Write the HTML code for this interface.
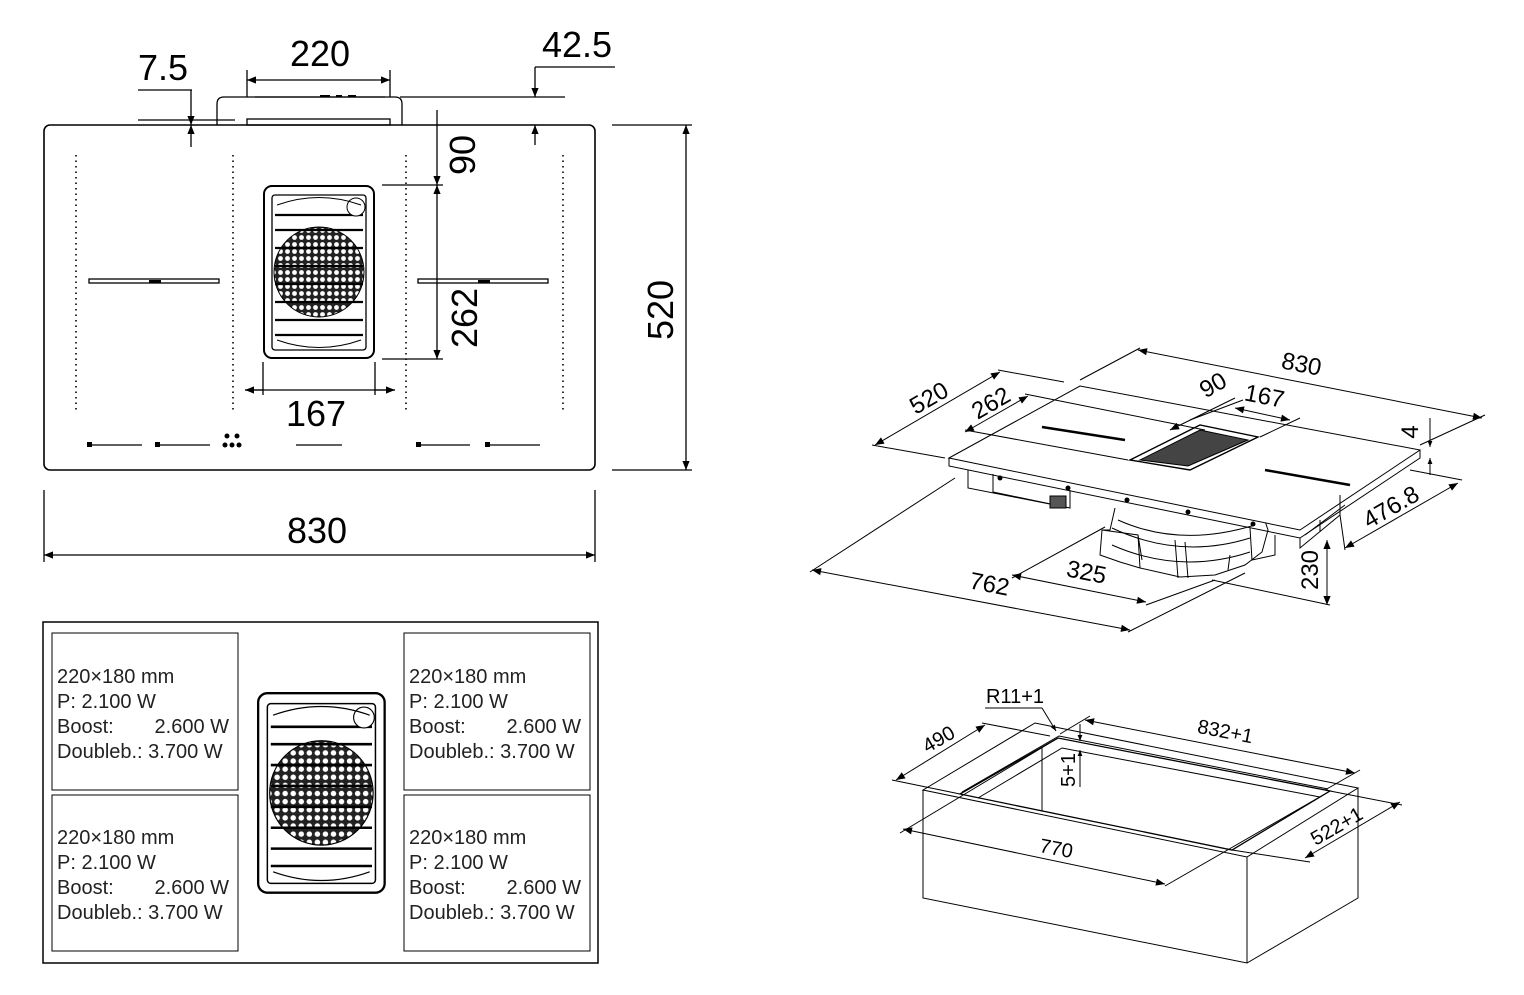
<!DOCTYPE html>
<html><head><meta charset="utf-8"><style>
html,body{margin:0;padding:0;background:#fff;}
svg{display:block;font-family:"Liberation Sans",sans-serif;}
</style></head><body>
<svg width="1524" height="995" viewBox="0 0 1524 995" xmlns="http://www.w3.org/2000/svg">
<defs>
<marker id="a" viewBox="0 0 10 10" refX="10" refY="5" markerWidth="16" markerHeight="9" markerUnits="userSpaceOnUse" orient="auto-start-reverse"><path d="M0,1 L10,5 L0,9 z" fill="#000"/></marker>
<marker id="s" viewBox="0 0 10 10" refX="10" refY="5" markerWidth="11" markerHeight="6" markerUnits="userSpaceOnUse" orient="auto-start-reverse"><path d="M0,1 L10,5 L0,9 z" fill="#000"/></marker>
<pattern id="dots" width="7" height="7" patternUnits="userSpaceOnUse"><rect width="7" height="7" fill="#222"/><circle cx="3.5" cy="3.5" r="2.4" fill="#fff"/></pattern>
<g id="vent">
<rect x="1" y="1" width="110" height="172" rx="8" fill="#fff" stroke="#000" stroke-width="2"/>
<rect x="9" y="10" width="94" height="155" rx="3" fill="none" stroke="#000" stroke-width="1.3"/>
<circle cx="56" cy="87" r="45" fill="url(#dots)" stroke="#000"/>
<g stroke="#000" stroke-width="2.2"><line x1="12" y1="30" x2="100" y2="30"/><line x1="12" y1="45" x2="100" y2="45"/><line x1="12" y1="63" x2="100" y2="63"/><line x1="12" y1="81" x2="100" y2="81"/><line x1="12" y1="99" x2="100" y2="99"/><line x1="12" y1="117" x2="100" y2="117"/><line x1="12" y1="135" x2="100" y2="135"/><line x1="12" y1="150" x2="100" y2="150"/></g>
<circle cx="93" cy="22" r="9" fill="#fff" stroke="#000"/>
<path d="M14,20 Q56,5 98,20 M14,155 Q56,170 98,155" fill="none" stroke="#000"/>
</g>
</defs>

<g stroke="#000" fill="none" stroke-width="1.3">
<rect x="44" y="125" width="551" height="345" rx="6" stroke-width="1.6"/>
<path d="M217,125 L217,104 Q217,97 224,97 L395,97 Q402,97 402,104 L402,125" stroke-width="1.3"/>
<rect x="247" y="119" width="143" height="6"/>
<line x1="255" y1="97" x2="385" y2="97" stroke-width="1.3"/>
<line x1="320" y1="96" x2="330" y2="96" stroke-width="2"/><line x1="336" y1="96" x2="342" y2="96" stroke-width="2"/><line x1="348" y1="96" x2="356" y2="96" stroke-width="2"/>
<g stroke-dasharray="1.5 4" stroke-width="1.6"><line x1="76" y1="155" x2="76" y2="410"/><line x1="233" y1="155" x2="233" y2="410"/><line x1="406" y1="155" x2="406" y2="410"/><line x1="563" y1="155" x2="563" y2="410"/></g>
<rect x="89" y="279" width="130" height="4"/><rect x="418" y="279" width="130" height="4"/>
<line x1="247" y1="80" x2="390" y2="80" marker-start="url(#a)" marker-end="url(#a)"/>
<line x1="247" y1="70" x2="247" y2="97"/><line x1="390" y1="70" x2="390" y2="97"/>
<line x1="138" y1="90" x2="192" y2="90"/><line x1="191" y1="90" x2="191" y2="125" marker-end="url(#a)"/><line x1="191" y1="147" x2="191" y2="125" marker-end="url(#a)"/>
<line x1="138" y1="120" x2="235" y2="120"/>
<line x1="535" y1="67" x2="615" y2="67"/><line x1="535" y1="67" x2="535" y2="97" marker-end="url(#a)"/><line x1="535" y1="145" x2="535" y2="125" marker-end="url(#a)"/>
<line x1="400" y1="97" x2="565" y2="97"/>
<line x1="437" y1="110" x2="437" y2="185" marker-end="url(#a)"/>
<line x1="437" y1="185" x2="437" y2="359" marker-start="url(#a)" marker-end="url(#a)"/>
<line x1="382" y1="185" x2="443" y2="185"/><line x1="382" y1="359" x2="443" y2="359"/>
<line x1="245" y1="390" x2="395" y2="390"/><line x1="263" y1="390" x2="245" y2="390" marker-end="url(#a)"/><line x1="375" y1="390" x2="395" y2="390" marker-end="url(#a)"/>
<line x1="263" y1="362" x2="263" y2="395"/><line x1="375" y1="362" x2="375" y2="395"/>
<line x1="686" y1="125" x2="686" y2="470" marker-start="url(#a)" marker-end="url(#a)"/>
<line x1="612" y1="125" x2="692" y2="125"/><line x1="612" y1="470" x2="692" y2="470"/>
<line x1="44" y1="555" x2="595" y2="555" marker-start="url(#a)" marker-end="url(#a)"/>
<line x1="44" y1="490" x2="44" y2="562"/><line x1="595" y1="490" x2="595" y2="562"/>
<g stroke-width="1.2"><line x1="90" y1="445" x2="142" y2="445"/><line x1="158" y1="445" x2="210" y2="445"/><line x1="296" y1="445" x2="342" y2="445"/><line x1="419" y1="445" x2="470" y2="445"/><line x1="488" y1="445" x2="540" y2="445"/></g>
</g>
<rect x="149" y="280" width="12" height="3" fill="#000"/><rect x="478" y="280" width="12" height="3" fill="#000"/>
<g fill="#000"><rect x="87" y="442" width="5" height="5"/><rect x="155" y="442" width="5" height="5"/><rect x="416" y="442" width="5" height="5"/><rect x="485" y="442" width="5" height="5"/><circle cx="227" cy="436" r="2.5"/><circle cx="237" cy="436" r="2.5"/><circle cx="225" cy="445" r="2.5"/><circle cx="232" cy="445" r="2.5"/><circle cx="239" cy="445" r="2.5"/></g>
<use href="#vent" x="263" y="185"/>
<g font-size="36" fill="#000">
<text x="320" y="66" text-anchor="middle">220</text>
<text x="163" y="80" text-anchor="middle">7.5</text>
<text x="577" y="57" text-anchor="middle">42.5</text>
<text x="316" y="426" text-anchor="middle">167</text>
<text x="317" y="543" text-anchor="middle">830</text>
<text transform="translate(475,155) rotate(-90)" text-anchor="middle">90</text>
<text transform="translate(477,318) rotate(-90)" text-anchor="middle">262</text>
<text transform="translate(673,310) rotate(-90)" text-anchor="middle">520</text>
</g>

<g stroke="#000" fill="none" stroke-width="1.5">
<rect x="43" y="622" width="555" height="341"/>
<rect x="52" y="633" width="186" height="157" stroke-width="1"/>
<rect x="52" y="795" width="186" height="156" stroke-width="1"/>
<rect x="404" y="633" width="186" height="157" stroke-width="1"/>
<rect x="404" y="795" width="186" height="156" stroke-width="1"/>
</g>
<g transform="translate(257,692) scale(1.15,1.16)"><use href="#vent"/></g>
<g font-size="20" fill="#222">
<text x="57" y="683">220×180 mm</text><text x="57" y="708">P: 2.100 W</text><text x="57" y="733">Boost:</text><text x="229" y="733" text-anchor="end">2.600 W</text><text x="57" y="758">Doubleb.: 3.700 W</text>
<text x="409" y="683">220×180 mm</text><text x="409" y="708">P: 2.100 W</text><text x="409" y="733">Boost:</text><text x="581" y="733" text-anchor="end">2.600 W</text><text x="409" y="758">Doubleb.: 3.700 W</text>
<text x="57" y="844">220×180 mm</text><text x="57" y="869">P: 2.100 W</text><text x="57" y="894">Boost:</text><text x="229" y="894" text-anchor="end">2.600 W</text><text x="57" y="919">Doubleb.: 3.700 W</text>
<text x="409" y="844">220×180 mm</text><text x="409" y="869">P: 2.100 W</text><text x="409" y="894">Boost:</text><text x="581" y="894" text-anchor="end">2.600 W</text><text x="409" y="919">Doubleb.: 3.700 W</text>
</g>

<!-- isometric hob -->
<g stroke="#000" fill="none" stroke-width="1">
<!-- fan unit -->
<path d="M1115,508 L1110,530 L1102,530 L1100,555 L1120,562 L1140,568 L1180,577 L1215,575 L1245,565 L1262,552 L1268,530 L1262,512" fill="#fff"/>
<path d="M1112,528 Q1180,560 1250,538 M1112,545 Q1180,575 1250,552 M1118,520 Q1180,548 1255,525"/>
<path d="M1102,530 L1138,535 L1140,568 M1138,535 L1142,560"/>
<path d="M1175,540 L1178,578 M1185,542 L1188,578 M1230,555 L1228,570"/>
<path d="M1250,528 L1252,560 L1275,555 L1275,535"/>
<path d="M949,458 L1080,386 L1420,450 L1300,530 Z" fill="#fff"/>
<path d="M949,458 L949,466 L1300,538 L1420,458 L1420,450"/>
<path d="M968,470 L968,488 L1070,508 M1070,490 L1070,508 L993,492 L993,474"/>
<rect x="1050" y="496" width="16" height="12" fill="#555"/>
<path d="M1300,538 L1300,548 L1340,515 L1340,495 M1320,520 L1320,532 M1305,535 L1345,505"/>
<path d="M1130,460 L1200,425 L1258,437 L1190,470 Z" stroke-width="1.4"/>
<path d="M1140,460 L1200,430 L1248,440 L1188,466 Z" fill="#444"/>
<line x1="1042" y1="427" x2="1125" y2="440" stroke-width="2.5"/>
<line x1="1265" y1="470" x2="1350" y2="485" stroke-width="2.5"/>
<line x1="1138" y1="350" x2="1482" y2="418" marker-start="url(#a)" marker-end="url(#a)"/>
<line x1="1080" y1="380" x2="1140" y2="348"/><line x1="1420" y1="445" x2="1485" y2="415"/>
<line x1="875" y1="445" x2="1000" y2="372" marker-start="url(#a)" marker-end="url(#a)"/>
<line x1="872" y1="445" x2="945" y2="458"/><line x1="998" y1="370" x2="1064" y2="382"/>
<line x1="965" y1="432" x2="1028" y2="396" marker-start="url(#a)" marker-end="url(#a)"/>
<line x1="1025" y1="394" x2="1205" y2="430"/><line x1="965" y1="430" x2="1128" y2="460"/>
<line x1="1235" y1="398" x2="1170" y2="430" marker-end="url(#a)"/>
<line x1="1235" y1="408" x2="1290" y2="420" marker-start="url(#a)" marker-end="url(#a)"/>
<line x1="1190" y1="420" x2="1243" y2="400"/><line x1="1260" y1="437" x2="1300" y2="418"/>
<line x1="1430" y1="418" x2="1430" y2="447" marker-end="url(#s)"/><line x1="1430" y1="475" x2="1430" y2="458" marker-end="url(#s)"/>
<line x1="1345" y1="548" x2="1458" y2="483" marker-start="url(#a)" marker-end="url(#a)"/>
<line x1="1410" y1="470" x2="1462" y2="480"/><line x1="1340" y1="515" x2="1345" y2="550"/>
<line x1="1327" y1="540" x2="1327" y2="605" marker-start="url(#a)" marker-end="url(#a)"/>
<line x1="1212" y1="580" x2="1330" y2="605"/>
<line x1="1012" y1="575" x2="1146" y2="602" marker-start="url(#a)" marker-end="url(#a)"/>
<line x1="1012" y1="578" x2="1105" y2="527"/><line x1="1146" y1="605" x2="1215" y2="580"/>
<line x1="812" y1="570" x2="1130" y2="630" marker-start="url(#a)" marker-end="url(#a)"/>
<line x1="810" y1="572" x2="955" y2="478"/><line x1="1128" y1="632" x2="1245" y2="573"/>
</g>
<g fill="#000"><circle cx="1000" cy="478" r="2.5"/><circle cx="1068" cy="488" r="2.5"/><circle cx="1127" cy="500" r="2.5"/><circle cx="1188" cy="512" r="2.5"/><circle cx="1253" cy="524" r="2.5"/></g>
<g font-size="24" fill="#000" text-anchor="middle">
<text transform="translate(1300,372) rotate(11)">830</text>
<text transform="translate(933,405) rotate(-30)">520</text>
<text transform="translate(995,410) rotate(-30)">262</text>
<text transform="translate(1217,392) rotate(-30)">90</text>
<text transform="translate(1263,404) rotate(11)">167</text>
<text transform="translate(1418,432) rotate(-90)">4</text>
<text transform="translate(1395,514) rotate(-30)">476.8</text>
<text transform="translate(1318,570) rotate(-90)">230</text>
<text transform="translate(1085,580) rotate(11)">325</text>
<text transform="translate(988,592) rotate(11)">762</text>
</g>

<g stroke="#000" fill="none" stroke-width="1">
<path d="M923,790 L1035,723 L1358,788 L1247,857 Z"/>
<path d="M923,790 L923,898 L1247,963 L1358,898 L1358,788 M1247,857 L1247,963"/>
<path d="M960,794 L1058,738 L1330,791 L1232,850 Z" stroke-width="1.3"/>
<path d="M962,792 L1059,736 L1328,789"/>
<path d="M978,798 L1062,748 L1320,797 M1042,748 L1042,811"/>
<line x1="896" y1="780" x2="985" y2="725" marker-start="url(#a)" marker-end="url(#a)"/>
<line x1="892" y1="780" x2="960" y2="794"/><line x1="982" y1="723" x2="1050" y2="736"/>
<line x1="1085" y1="720" x2="1355" y2="773" marker-start="url(#a)" marker-end="url(#a)"/>
<line x1="1060" y1="734" x2="1090" y2="716"/><line x1="1325" y1="790" x2="1360" y2="770"/>
<line x1="985" y1="708" x2="1042" y2="708"/><line x1="1042" y1="708" x2="1056" y2="731" marker-end="url(#s)"/>
<line x1="1080" y1="724" x2="1080" y2="741" marker-end="url(#s)"/><line x1="1080" y1="787" x2="1080" y2="750" marker-end="url(#s)"/>
<line x1="903" y1="829" x2="1165" y2="884" marker-start="url(#a)" marker-end="url(#a)"/>
<line x1="900" y1="833" x2="1058" y2="738"/><line x1="1165" y1="886" x2="1330" y2="791"/>
<line x1="1305" y1="858" x2="1400" y2="802" marker-start="url(#a)" marker-end="url(#a)"/>
<line x1="1330" y1="791" x2="1402" y2="805"/><line x1="1232" y1="850" x2="1310" y2="862"/>
</g>
<g font-size="20" fill="#000" text-anchor="middle">
<text x="1015" y="703">R11+1</text>
<text transform="translate(942,745) rotate(-30)">490</text>
<text transform="translate(1224,738) rotate(11)">832+1</text>
<text transform="translate(1075,770) rotate(-90)">5+1</text>
<text transform="translate(1055,855) rotate(11)">770</text>
<text transform="translate(1340,832) rotate(-30)">522+1</text>
</g>
</svg>
</body></html>
